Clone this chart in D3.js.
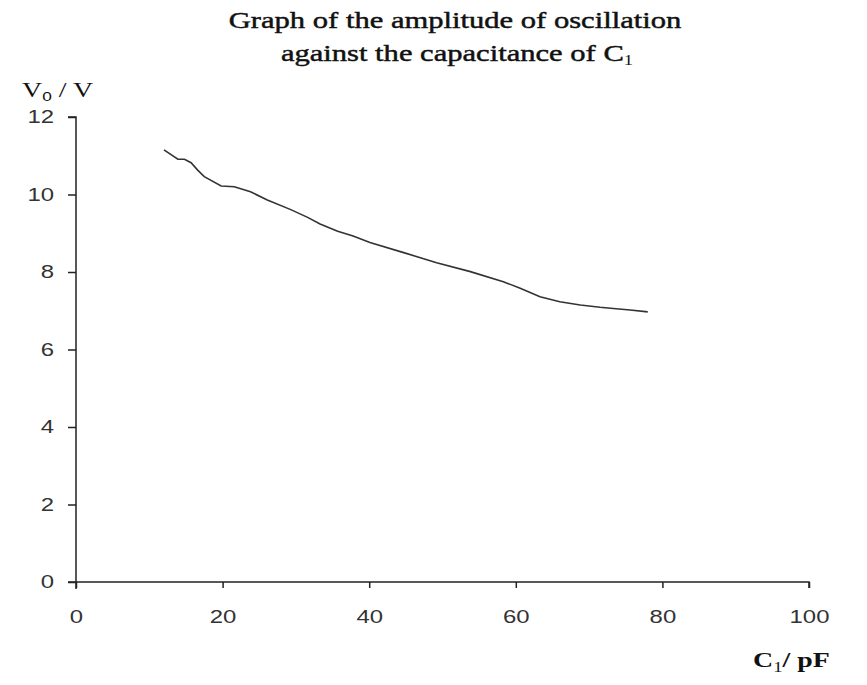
<!DOCTYPE html>
<html>
<head>
<meta charset="utf-8">
<script src="https://cdn.jsdelivr.net/npm/d3@7"></script>
<style>
	body { margin: 0; background: #fff; }
	svg { display: block; }
	.tick text { font-family: "Liberation Sans", Arial, sans-serif; font-size: 18px; fill: #333; }
	.serif { font-family: "Liberation Serif", "Times New Roman", serif; fill: #111; }
</style>
</head>
<body>
<div id="chart"></div>
<script>
	// capacitance C1 (pF) and amplitude V0 (V)
	var capacitance = [12, 13.9, 14.8, 15.7, 16.6, 17.5, 19.8, 21.6, 23.8, 26.1, 29.3, 31.6, 33.3, 35.7, 37.8, 40.1, 44.7, 49.2, 53.8, 58.3, 60.6, 63.3, 66, 68.8, 71.5, 73.3, 75.6, 78];
	var amplitude = [11.15, 10.91, 10.91, 10.82, 10.63, 10.46, 10.22, 10.2, 10.07, 9.86, 9.61, 9.41, 9.24, 9.05, 8.93, 8.76, 8.5, 8.24, 8.01, 7.75, 7.58, 7.36, 7.23, 7.15, 7.09, 7.06, 7.02, 6.97];
	var xTicks = [0, 20, 40, 60, 80, 100];
	var yTicks = [0, 2, 4, 6, 8, 10, 12];

	var width = 867, height = 685;
	var margin = {top: 117, right: 58, bottom: 103, left: 76};
	var stretch = 1.33; // the original picture is wider than it is tall

	var svg = d3.select("#chart")
		.append("svg")
		.attr("width", width)
		.attr("height", height);

	var x = d3.scaleLinear().domain([0, 100]).range([margin.left, width - margin.right]);
	var y = d3.scaleLinear().domain([0, 12]).range([height - margin.bottom, margin.top]);

	// axes
	var gx = svg.append("g")
		.attr("transform", "translate(0," + y(0) + ")")
		.call(d3.axisBottom(x).tickValues(xTicks).tickSize(6).tickPadding(22).tickFormat(d3.format("d")));
	var gy = svg.append("g")
		.attr("transform", "translate(" + x(0) + ",0)")
		.call(d3.axisLeft(y).tickValues(yTicks).tickSize(8).tickPadding(8.5).tickFormat(d3.format("d")));

	gx.selectAll(".tick text").attr("transform", "scale(" + stretch + ",1)");
	gy.selectAll(".tick text").attr("transform", "scale(" + stretch + ",1)");

	[gx, gy].forEach(function(g) {
		g.select(".domain").attr("stroke", "#222").attr("stroke-width", 1.5);
		g.selectAll(".tick line").attr("stroke", "#222").attr("stroke-width", 1.5);
	});
	// x axis extends left to meet the y tick, y axis extends below x axis
	gx.select(".domain").attr("d", "M" + (x(0) - 8) + ",0H" + x(100) + "V6");
	gy.select(".domain").attr("d", "M-8," + y(12) + "H0V" + (y(0) + 7));

	// curve
	var data = capacitance.map(function(c, i) { return {c: c, v: amplitude[i]}; });
	svg.append("path")
		.datum(data)
		.attr("fill", "none")
		.attr("stroke", "#333")
		.attr("stroke-width", 1.6)
		.attr("d", d3.line()
			.x(function(d) { return x(d.c); })
			.y(function(d) { return y(d.v); }));

	// stretched text helper
	function label(px, py, anchor, size, weight) {
		return svg.append("text")
			.attr("class", "serif")
			.attr("text-anchor", anchor)
			.attr("transform", "translate(" + px + "," + py + ") scale(" + stretch + ",1)")
			.style("font-size", size + "px")
			.style("font-weight", weight);
	}

	// title
	label(455, 28, "middle", 23, "normal")
		.attr("stroke", "#111").attr("stroke-width", 0.45)
		.text("Graph of the amplitude of oscillation");
	var t2 = label(457, 61, "middle", 23, "normal").attr("stroke", "#111").attr("stroke-width", 0.45);
	t2.append("tspan").text("against the capacitance of  C");
	t2.append("tspan").attr("dy", 4).style("font-size", "14px").attr("stroke", "none").text("1");

	// axis labels
	var yl = label(22, 97, "start", 21, "normal");
	yl.append("tspan").text("V");
	yl.append("tspan").attr("dy", 4).style("font-size", "13px").style("font-family", "Liberation Sans, Arial, sans-serif").text("0");
	yl.append("tspan").attr("dy", -4).text(" / V");

	var xl = label(753, 667, "start", 21, "bold");
	xl.append("tspan").text("C");
	xl.append("tspan").attr("dy", 5).style("font-size", "14px").style("font-weight", "normal").text("1");
	xl.append("tspan").attr("dy", -5).text("/ pF");
</script>
</body>
</html>
